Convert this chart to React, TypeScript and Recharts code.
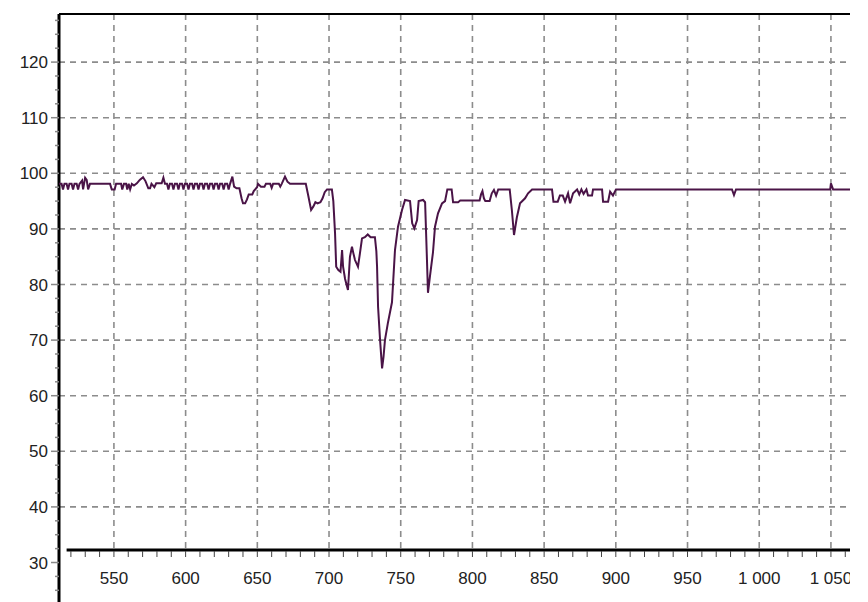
import { LineChart, Line, XAxis, YAxis, CartesianGrid, ReferenceLine } from 'recharts';

// trace, split by region: [x, value]
const leftBand: [number, number][] = [
  [511.7, 98.1], [513.5, 98.1], [514.5, 97.1], [515.5, 98.1], [517, 98.1], [518, 97.1],
  [519, 98.1], [520.5, 98.1], [521.5, 97.1], [522.5, 98.1], [524, 98.1], [525, 97.1],
  [526, 98.1], [527.8, 98.7], [528.5, 97.1], [529.9, 99.2], [531, 98.8], [532, 97.1],
  [533.3, 98.1], [547.3, 98.1], [548.5, 97.1], [550.5, 97.1], [551.5, 98.1], [555, 98.1],
  [555.8, 97.1], [557, 98.1], [558.5, 98.1], [559.3, 97.1], [560.3, 98.1], [561.3, 97.1],
  [562.5, 98.1], [564, 97.8], [566, 98.2], [568, 98.8], [570.3, 99.3], [572, 98.6],
  [574, 97.3], [575.2, 97.3], [576.2, 98.1], [578.2, 97.5], [579.5, 98.2], [583.3, 98.2],
  [584.5, 99.2], [585.6, 98.1],
];

const noisyBand: [number, number][] = [
  [587, 98.1], [588, 97.1], [589, 98.1], [590.5, 98.1], [591.5, 97.1], [592.5, 98.1],
  [594, 98.1], [595, 97.1], [596, 98.1], [597.5, 98.1], [598.5, 97.1], [599.5, 98.1],
  [601, 98.1], [602, 97.1], [603, 98.1], [604.5, 98.1], [605.5, 97.1], [606.5, 98.1],
  [608, 98.1], [609, 97.1], [610, 98.1], [611.5, 98.1], [612.5, 97.1], [613.5, 98.1],
  [615, 98.1], [616, 97.1], [617, 98.1], [618.5, 98.1], [619.5, 97.1], [620.5, 98.1],
  [622, 98.1], [623, 97.1], [624, 98.1], [625.5, 98.1], [626.5, 97.1], [627.5, 98.1],
  [629, 98.1], [630, 97.1], [631, 98.1], [632.6, 99.4], [633.8, 97.6], [635.5, 97.3],
  [637.5, 97.3], [639, 95.5], [640, 94.6], [641.5, 94.6], [642.8, 95.3], [644, 96.2],
  [646.5, 96.2], [647.5, 96.8], [649.8, 97.5], [650.5, 98.1], [652.5, 97.6], [655, 97.6],
  [656, 98.1], [659, 98.1], [660, 97.4], [661, 98.1], [665, 98.1], [666, 97.6],
  [667, 98.1], [669.3, 99.4], [671, 98.5], [672.8, 98.1], [683.8, 98.1], [685.5, 96],
  [687.5, 93.4], [689, 94], [690.5, 94.8], [692, 94.6], [694, 94.8], [695.5, 95.5],
  [697, 96.6], [698.6, 97.1],
];

const deepDips: [number, number][] = [
  [702, 97.1], [703, 95], [704.2, 89.2], [705, 83.2], [706.5, 82.6], [708, 82.3],
  [709.1, 86.2], [709.8, 83.2], [711.2, 81], [713.2, 79], [714.6, 85], [716, 86.8],
  [717, 85.6], [718.1, 84.4], [720.2, 83.2], [721.5, 85.5], [723, 88.3], [725, 88.5],
  [727, 89], [729, 88.5], [732, 88.5], [733, 86], [733.5, 83.2], [734.2, 76],
  [735.6, 70], [737, 64.9], [738, 67], [739, 70], [741, 73], [743.9, 76.8],
  [746, 86.2], [748.1, 90.4], [750.9, 93.4], [753, 95.2], [756.5, 95], [758, 91],
  [759.5, 90.1], [761.4, 91.6], [762.5, 95], [765.6, 95.2], [767, 94.8], [768.3, 84.4],
  [769, 78.5], [770.4, 81.5], [772.5, 85.8], [773.9, 90.4], [776, 92.8], [778.8, 94.6],
  [780.9, 95], [782.5, 97.1], [785.5, 97.1], [786.5, 94.8], [790, 94.8], [791.5, 95.1],
];

const recovery: [number, number][] = [
  [800, 95.1], [805, 95.1], [806, 96.2], [807, 96.8], [808, 95.5], [809, 95],
  [812, 95], [813.5, 96.4], [815, 97], [816.5, 96], [818, 97.1], [826, 97.1],
  [827.5, 93.4], [829, 88.9], [831, 92.1], [833.2, 94.6], [836.7, 95.5], [838.8, 96.4],
  [841.6, 97.1], [855.5, 97.1], [856.5, 94.9], [859.5, 94.9], [861, 96], [863, 96],
  [864.6, 94.9], [866.7, 96.4], [868.1, 94.6], [870.2, 96.4], [873, 97.1], [874.5, 96.2],
  [876, 97.1], [877.5, 96.3], [879.5, 97.1], [880.6, 96], [883.4, 96], [884.1, 97.1],
  [890.4, 97.1], [891.1, 94.9], [894.6, 94.9], [896, 96.7], [898, 96], [900.1, 97.1],
];

const plateau: [number, number][] = [
  [981, 97.1], [982.4, 96.1], [983.8, 97.1], [1049.5, 97.1], [1050, 98.2],
  [1050.8, 97.6], [1051.5, 97.1], [1063.3, 97.1],
];

const xMajor = [550, 600, 650, 700, 750, 800, 850, 900, 950, 1000, 1050];
const xMinor = [520, 530, 540, 550, 560, 570, 580, 590, 600, 610, 620, 630, 640, 650, 660, 670, 680, 690,
  700, 710, 720, 730, 740, 750, 760, 770, 780, 790, 800, 810, 820, 830, 840, 850, 860, 870, 880, 890,
  900, 910, 920, 930, 940, 950, 960, 970, 980, 990, 1000, 1010, 1020, 1030, 1040, 1050, 1060];
const yMajor = [40, 50, 60, 70, 80, 90, 100, 110, 120];
const yLabels = [30, 40, 50, 60, 70, 80, 90, 100, 110, 120];
const yMinor = [22.5, 25, 27.5, 30, 32.5, 35, 37.5, 40, 42.5, 45, 47.5, 50, 52.5, 55, 57.5, 60, 62.5, 65, 67.5,
  70, 72.5, 75, 77.5, 80, 82.5, 85, 87.5, 90, 92.5, 95, 97.5, 100, 102.5, 105, 107.5, 110, 112.5, 115,
  117.5, 120, 122.5, 125, 127.5];

const X_MIN = 511.7;
const X_MAX = 1063.3;
const Y_MIN = 32.25;
const Y_MAX = 128.65;

const data = [...leftBand, ...noisyBand, ...deepDips, ...recovery, ...plateau].map(([x, y]) => ({ x, y }));

const font = 'Arial, "Liberation Sans", sans-serif';

function fmt(v: number) {
  if (v >= 1000) return `${Math.floor(v / 1000)} ${String(v % 1000).padStart(3, '0')}`;
  return String(v);
}

function XTick(props: any) {
  const { x, y, payload } = props;
  const v = payload.value;
  return (
    <g>
      <line x1={x} x2={x} y1={y + 1} y2={y + 7} stroke="#444" strokeWidth={1} />
      {xMajor.includes(v) && (
        <text x={x} y={y + 34} textAnchor="middle" fontSize={17} fontFamily={font} fill="#222">
          {fmt(v)}
        </text>
      )}
    </g>
  );
}

function YTick(props: any) {
  const { x, y, payload } = props;
  const v = payload.value;
  const major = yLabels.includes(v);
  return (
    <g>
      <line x1={major ? x - 8 : x - 4} x2={x} y1={y} y2={y} stroke="#888" strokeWidth={1.5} />
      {major && (
        <text x={x - 11} y={y + 6} textAnchor="end" fontSize={17} fontFamily={font} fill="#222">
          {v}
        </text>
      )}
    </g>
  );
}

export default function App() {
  return (
    <div style={{ position: 'absolute', left: 0, top: 0, width: 868, height: 602, background: '#fff', overflow: 'hidden' }}>
      <LineChart width={850} height={602} data={data} margin={{ top: 14, right: 0, bottom: 0, left: 0 }}>
        <CartesianGrid
          stroke="#8c8c8c"
          strokeWidth={1.6}
          strokeDasharray="6 5"
          horizontalValues={yMajor}
          verticalValues={xMajor}
        />
        <XAxis
          dataKey="x"
          type="number"
          domain={[X_MIN, X_MAX]}
          allowDataOverflow
          ticks={xMinor}
          interval={0}
          tick={XTick}
          tickLine={false}
          axisLine={false}
          tickSize={0}
          tickMargin={0}
          height={52}
        />
        <YAxis
          type="number"
          domain={[Y_MIN, Y_MAX]}
          allowDataOverflow
          ticks={yMinor}
          interval={0}
          tick={YTick}
          tickLine={false}
          axisLine={false}
          tickSize={0}
          tickMargin={0}
          width={59}
        />
        <ReferenceLine y={Y_MAX} stroke="#000" strokeWidth={2} />
        <ReferenceLine
          segment={[{ x: X_MIN, y: 20 }, { x: X_MIN, y: Y_MAX }]}
          stroke="#000"
          strokeWidth={3}
          ifOverflow="visible"
        />
        <ReferenceLine
          segment={[{ x: 517, y: Y_MIN }, { x: X_MAX, y: Y_MIN }]}
          stroke="#000"
          strokeWidth={3}
          ifOverflow="visible"
        />
        <Line
          type="linear"
          dataKey="y"
          stroke="#4a1447"
          strokeWidth={2}
          dot={false}
          isAnimationActive={false}
        />
      </LineChart>
    </div>
  );
}
